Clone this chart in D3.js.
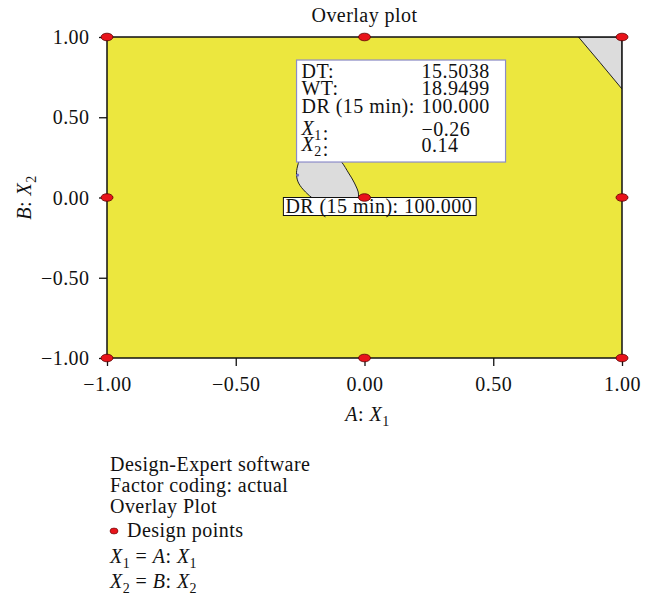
<!DOCTYPE html>
<html>
<head>
<meta charset="utf-8">
<script src="https://cdn.jsdelivr.net/npm/d3@7"></script>
<style>
  html, body { margin: 0; padding: 0; background: #fff; }
  svg { display: block; font-family: "Liberation Serif", "Times New Roman", serif; letter-spacing: 0.45px; }
</style>
</head>
<body>
<svg id="chart" width="657" height="598"></svg>
<script>
// Factor range (coded units) and axis ticks
const domainA = [-1, 1];
const domainB = [-1, 1];
const tickValues = [-1, -0.5, 0, 0.5, 1];

// Design points (A, B)
const designA = [-1, 0, 1, -1, 0, 1, -1, 0, 1];
const designB = [1, 1, 1, 0, 0, 0, -1, -1, -1];

// Regions that fail the criteria (gray), traced along their contour boundaries
const ovalRegion = [
  [-0.206, 0.308], [-0.144, 0.315], [-0.089, 0.221], [-0.062, 0.153],
  [-0.039, 0.090], [-0.023, 0.016], [-0.040, -0.050], [-0.097, -0.078],
  [-0.151, -0.059], [-0.198, -0.009], [-0.229, 0.034], [-0.256, 0.090],
  [-0.264, 0.140], [-0.260, 0.196], [-0.245, 0.255]
];
const cornerRegion = [
  [0.831, 1.0], [0.915, 0.84], [1.0, 0.676], [1.0, 1.0]
];

// Flag readout
const flagPoint = [-0.26, 0.14];
const flagNames = ["DT:", "WT:", "DR (15 min):", "X1:", "X2:"];
const flagValues = ["15.5038", "18.9499", "100.000", "\u22120.26", "0.14"];

// Contour label
const contourLabelAt = [-0.315, 0];
const contourLabelText = "DR (15 min): 100.000";

// Legend lines
const legendLines = ["Design-Expert software", "Factor coding: actual", "Overlay Plot", "Design points"];

const svg = d3.select("#chart");
const plot = { left: 107, right: 622, top: 37, bottom: 358 };
const FS = 20;

const x = d3.scaleLinear().domain(domainA).range([plot.left, plot.right]);
const y = d3.scaleLinear().domain(domainB).range([plot.bottom, plot.top]);

const YELLOW = "#ece73e";
const GRAY = "#dcdcdc";
const RED = "#e8141b";
const INK = "#111";

// Plot background (criteria satisfied)
svg.append("rect")
  .attr("x", x(domainA[0])).attr("y", y(domainB[1]))
  .attr("width", x(domainA[1]) - x(domainA[0]))
  .attr("height", y(domainB[0]) - y(domainB[1]))
  .attr("fill", YELLOW);

svg.append("clipPath").attr("id", "plotclip")
  .append("rect")
  .attr("x", plot.left).attr("y", plot.top)
  .attr("width", plot.right - plot.left).attr("height", plot.bottom - plot.top);

const regions = svg.append("g").attr("clip-path", "url(#plotclip)");
regions.append("path")
  .datum(ovalRegion)
  .attr("d", d3.line().x(d => x(d[0])).y(d => y(d[1])).curve(d3.curveCatmullRomClosed.alpha(0.5)))
  .attr("fill", GRAY).attr("stroke", "#222").attr("stroke-width", 1);
regions.append("path")
  .datum(cornerRegion)
  .attr("d", d3.line().x(d => x(d[0])).y(d => y(d[1])).curve(d3.curveLinearClosed))
  .attr("fill", GRAY).attr("stroke", "#222").attr("stroke-width", 1);

// Frame
svg.append("rect")
  .attr("x", plot.left).attr("y", plot.top)
  .attr("width", plot.right - plot.left).attr("height", plot.bottom - plot.top)
  .attr("fill", "none").attr("stroke", INK).attr("stroke-width", 1.5);

// Axes
const fmt = d3.format(".2f");
const xAxis = d3.axisBottom(x).tickValues(tickValues).tickFormat(fmt).tickSize(8).tickPadding(6);
const yAxis = d3.axisLeft(y).tickValues(tickValues).tickFormat(fmt).tickSize(8).tickPadding(9.5);

const gx = svg.append("g").attr("transform", `translate(0,${plot.bottom})`).call(xAxis);
const gy = svg.append("g").attr("transform", `translate(${plot.left},0)`).call(yAxis);
[gx, gy].forEach(g => {
  g.select(".domain").remove();
  g.selectAll(".tick line").attr("stroke", INK).attr("stroke-width", 1.3);
  g.selectAll(".tick text")
    .attr("font-family", "Liberation Serif").attr("font-size", FS).attr("fill", INK);
});
gx.selectAll(".tick text").attr("y", 33).attr("dy", 0);
gy.selectAll(".tick text").attr("dy", "0.33em");

// Title
svg.append("text")
  .attr("x", (plot.left + plot.right) / 2).attr("y", 22)
  .attr("text-anchor", "middle").attr("font-size", FS).attr("fill", INK)
  .text("Overlay plot");

// Factor name such as "A: X1" with italic letters and subscript
function factorLabel(sel, letter, idx) {
  sel.append("tspan").attr("font-style", "italic").text(letter);
  sel.append("tspan").text(": ");
  sel.append("tspan").attr("font-style", "italic").text("X");
  sel.append("tspan").attr("font-size", FS * 0.7).attr("dy", 5).text(idx);
}

// Axis titles
const xt = svg.append("text")
  .attr("x", (plot.left + plot.right) / 2 + 3).attr("y", 421)
  .attr("text-anchor", "middle").attr("font-size", FS).attr("fill", INK);
factorLabel(xt, "A", "1");

const yt = svg.append("text")
  .attr("transform", `translate(31,${(plot.top + plot.bottom) / 2}) rotate(-90)`)
  .attr("text-anchor", "middle").attr("font-size", FS).attr("fill", INK);
factorLabel(yt, "B", "2");

// Contour label box
const cl = svg.append("g");
const clx = x(contourLabelAt[0]), cly = y(contourLabelAt[1]);
const clText = cl.append("text")
  .attr("x", clx + 2).attr("y", cly + 15)
  .attr("font-size", FS).attr("fill", INK)
  .text(contourLabelText);
const cb = clText.node().getBBox();
cl.insert("rect", "text")
  .attr("x", clx).attr("y", cly)
  .attr("width", cb.width + 6).attr("height", 18)
  .attr("fill", "#fff").attr("stroke", INK).attr("stroke-width", 1);

// Flag readout box
const fx = x(flagPoint[0]), fy = y(flagPoint[1]);
const flag = svg.append("g");
flag.append("rect")
  .attr("x", fx - 1).attr("y", fy - 115)
  .attr("width", 209).attr("height", 102)
  .attr("fill", "#fff").attr("stroke", "#8c8cc8").attr("stroke-width", 1.2);
const lineOffsets = [-97, -80, -62, -40, -24];
flagNames.forEach((name, i) => {
  const t = flag.append("text")
    .attr("x", fx + 4).attr("y", fy + lineOffsets[i])
    .attr("font-size", FS).attr("fill", INK);
  if (name.startsWith("X")) {
    t.append("tspan").attr("font-style", "italic").text("X");
    t.append("tspan").attr("font-size", FS * 0.7).attr("dy", 5).text(name[1]);
    t.append("tspan").attr("dx", 1).text(":");
  } else {
    t.text(name);
  }
  flag.append("text")
    .attr("x", fx + 124).attr("y", fy + lineOffsets[i] + (i >= 3 ? 1 : 0))
    .attr("font-size", FS).attr("fill", INK)
    .text(flagValues[i]);
});
flag.append("circle")
  .attr("cx", fx).attr("cy", fy).attr("r", 1.6)
  .attr("fill", "#6f6fc0");

// Design points
svg.append("g").selectAll("ellipse")
  .data(designA.map((a, i) => [a, designB[i]]))
  .join("ellipse")
  .attr("cx", d => x(d[0])).attr("cy", d => y(d[1]))
  .attr("rx", 6).attr("ry", 3.8)
  .attr("fill", RED).attr("stroke", "#5a0000").attr("stroke-width", 0.8);

// Legend
const lgX = 110;
const lgY = [471, 492, 513, 537];
legendLines.forEach((line, i) => {
  svg.append("text")
    .attr("x", i === 3 ? lgX + 17 : lgX).attr("y", lgY[i])
    .attr("font-size", FS).attr("fill", INK)
    .text(line);
});
svg.append("ellipse")
  .attr("cx", lgX + 4).attr("cy", lgY[3] - 6)
  .attr("rx", 4).attr("ry", 3)
  .attr("fill", RED).attr("stroke", "#5a0000").attr("stroke-width", 0.6);

[["1", "A"], ["2", "B"]].forEach(([idx, letter], i) => {
  const t = svg.append("text")
    .attr("x", lgX).attr("y", [563, 588][i])
    .attr("font-size", FS).attr("fill", INK);
  t.append("tspan").attr("font-style", "italic").text("X");
  t.append("tspan").attr("font-size", FS * 0.7).attr("dy", 5).text(idx);
  t.append("tspan").attr("dy", -5).text(" = ");
  t.append("tspan").attr("font-style", "italic").text(letter);
  t.append("tspan").text(": ");
  t.append("tspan").attr("font-style", "italic").text("X");
  t.append("tspan").attr("font-size", FS * 0.7).attr("dy", 5).text(idx);
});
</script>
</body>
</html>
